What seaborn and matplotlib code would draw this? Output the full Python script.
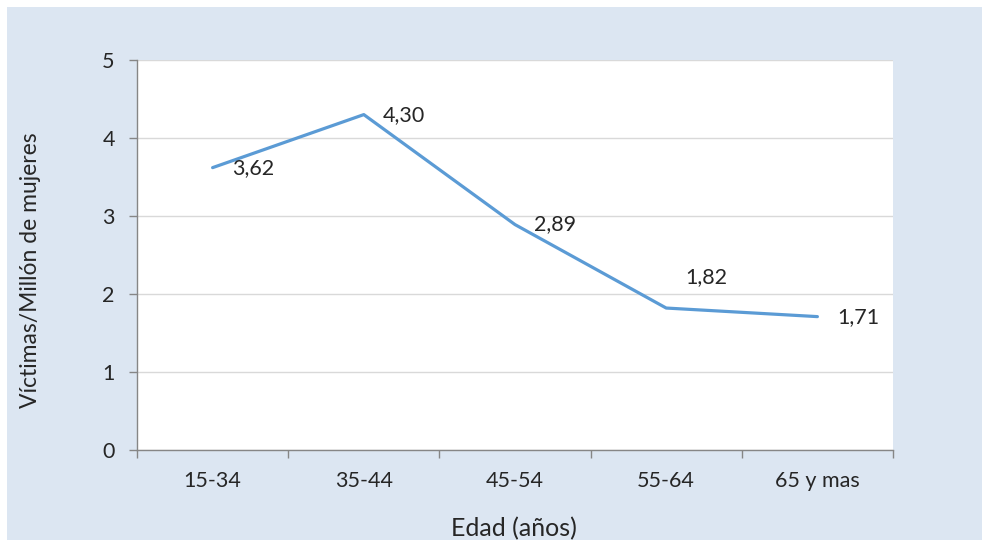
import matplotlib
matplotlib.use("Agg")
import matplotlib.pyplot as plt
import seaborn as sns
import numpy as np
import pandas as pd
from matplotlib.patches import Rectangle

categories = ["15-34", "35-44", "45-54", "55-64", "65 y mas"]
values = [3.62, 4.30, 2.89, 1.82, 1.71]
value_labels = ["3,62", "4,30", "2,89", "1,82", "1,71"]
y_ticks = [0, 1, 2, 3, 4, 5]

sns.set_theme(style="white")
plt.rcParams['font.family'] = ['Lato', 'DejaVu Sans']

W, H = 982, 540
fig = plt.figure(figsize=(W / 100, H / 100), dpi=100, facecolor="white")
fig.patches.append(Rectangle((7 / W, 0), 1 - 7 / W, 1 - 7 / H, transform=fig.transFigure,
                             facecolor="#DCE6F2", edgecolor="none", zorder=-10))
ax = fig.add_axes([137 / W, 1 - 450 / H, (893 - 137) / W, (450 - 60) / H])
ax.set_facecolor("white")

df = pd.DataFrame({"pos": np.arange(len(categories)), "val": values})
sns.lineplot(data=df, x="pos", y="val", ax=ax, color="#5B9BD5", linewidth=2.3)

text_color = "#262626"
fs = 15.5
label_offsets = [(14, 0), (14, 0), (14, 0), (14, 22), (14, 0)]
for x, v, lab, off in zip(df["pos"], values, value_labels, label_offsets):
    ax.annotate(lab, (x, v), xytext=off, textcoords="offset points",
                ha="left", va="center", fontsize=fs, color=text_color)

ax.set_xlim(-0.5, len(categories) - 0.5)
ax.set_ylim(0, 5)
ax.set_yticks(y_ticks)
ax.set_yticklabels([str(t) for t in y_ticks])
ax.yaxis.grid(True, color="#D9D9D9", linewidth=1)
ax.set_axisbelow(True)

ax.set_xticks(np.arange(len(categories) + 1) - 0.5)
ax.set_xticklabels([])
ax.set_xticks(np.arange(len(categories)), minor=True)
ax.set_xticklabels(categories, minor=True)
ax.tick_params(axis="x", which="major", length=6, width=1, color="#868686", direction="out", bottom=True)
ax.tick_params(axis="x", which="minor", length=0, pad=15, labelsize=fs, labelcolor=text_color)
ax.tick_params(axis="y", which="major", length=6, width=1, color="#868686", direction="out", left=True,
               pad=10, labelsize=fs, labelcolor=text_color)

for s in ["top", "right"]:
    ax.spines[s].set_visible(False)
for s in ["left", "bottom"]:
    ax.spines[s].set_color("#868686")
    ax.spines[s].set_linewidth(1)

ax.set_xlabel("")
ax.set_ylabel("")
fig.text(31 / W, 1 - 270 / H, "Víctimas/Millón de mujeres", rotation=90, ha="center", va="center",
         fontsize=16.5, color=text_color)
fig.text(514 / W, 1 - 529 / H, "Edad (años)", ha="center", va="center", fontsize=18, color=text_color)

fig.savefig("out.png", dpi=100, facecolor=fig.get_facecolor())
